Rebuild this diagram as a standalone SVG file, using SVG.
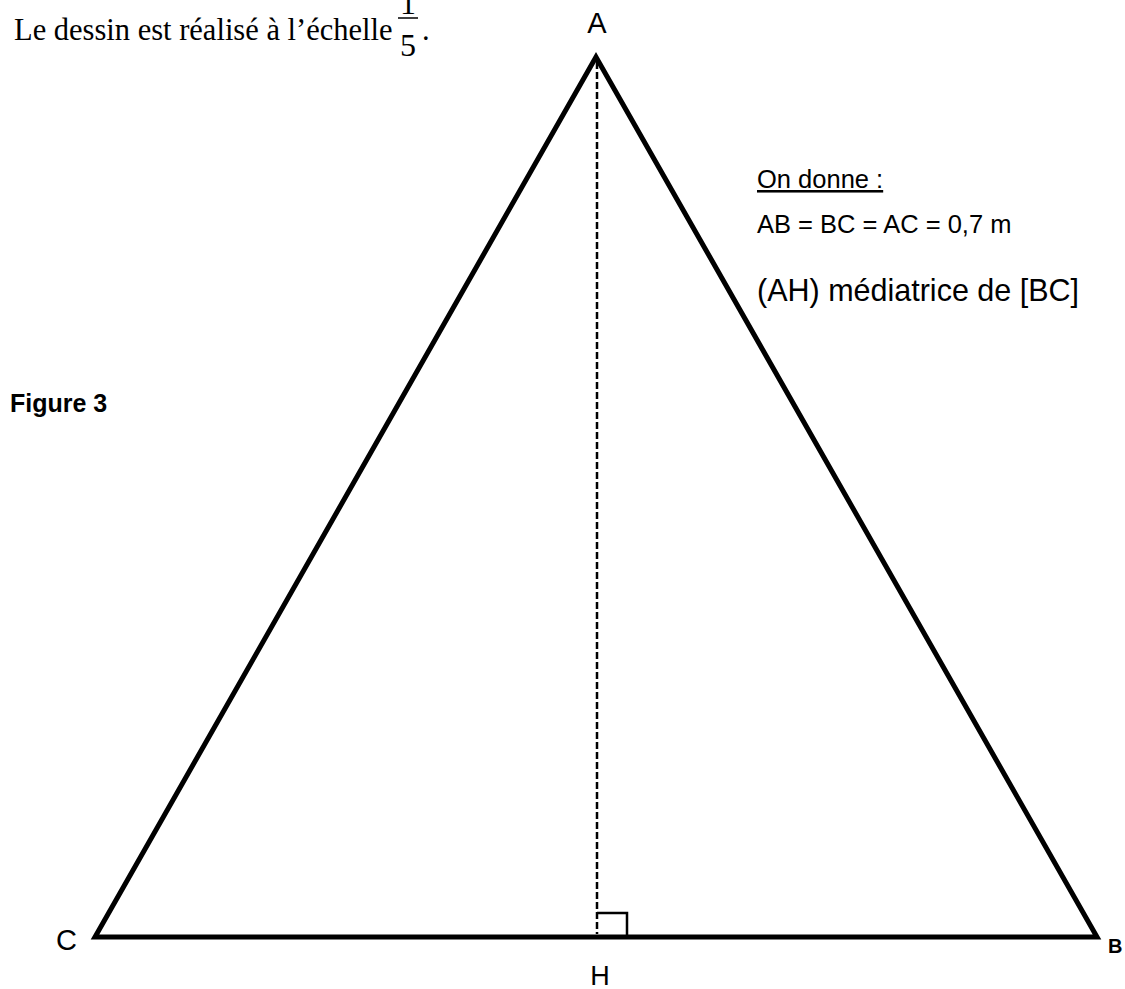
<svg xmlns="http://www.w3.org/2000/svg" width="1125" height="989" viewBox="0 0 1125 989">
<style>
.serif{font-family:"Liberation Serif",serif;fill:#000}
.sans{font-family:"Liberation Sans",Arial,sans-serif;fill:#000}
.edge{stroke:#000;stroke-width:5;fill:none;stroke-linejoin:miter;stroke-linecap:round}
</style>
<rect width="1125" height="989" fill="#fff"/>
<g id="caption">
<text class="serif" x="14" y="40" font-size="30.5">Le dessin est réalisé à l’échelle</text>
<text class="serif" x="408" y="14" font-size="32" text-anchor="middle">1</text>
<line x1="398" y1="18" x2="418" y2="18" stroke="#000" stroke-width="1.5"/>
<text class="serif" x="408" y="56" font-size="32" text-anchor="middle">5</text>
<text class="serif" x="422" y="40" font-size="30.5">.</text>
</g>
<g id="connectors">
<path class="edge" d="M596,57 L95,937 L1097,937 Z"/>
<line x1="597" y1="62" x2="597" y2="934" stroke="#000" stroke-width="2.5" stroke-dasharray="7,3"/>
<path d="M597,913 L627,913 L627,937" stroke="#000" stroke-width="2.5" fill="none"/>
</g>
<g id="node-A"><text class="sans" x="597" y="33" font-size="29" text-anchor="middle">A</text></g>
<g id="node-B"><text class="sans" x="1108" y="953" font-size="20" font-weight="bold">B</text></g>
<g id="node-C"><text class="sans" x="56" y="950" font-size="29">C</text></g>
<g id="node-H"><text class="sans" x="600" y="985" font-size="27" text-anchor="middle">H</text></g>
<g id="givens">
<text class="sans" x="757" y="188" font-size="25.5" text-decoration="underline">On donne :</text>
<text class="sans" x="757" y="233" font-size="25.5">AB = BC = AC = 0,7 m</text>
<text class="sans" x="757" y="301" font-size="30.5">(AH) médiatrice de [BC]</text>
</g>
<g id="figure-label"><text class="sans" x="10" y="412" font-size="25" font-weight="bold">Figure 3</text></g>
</svg>
